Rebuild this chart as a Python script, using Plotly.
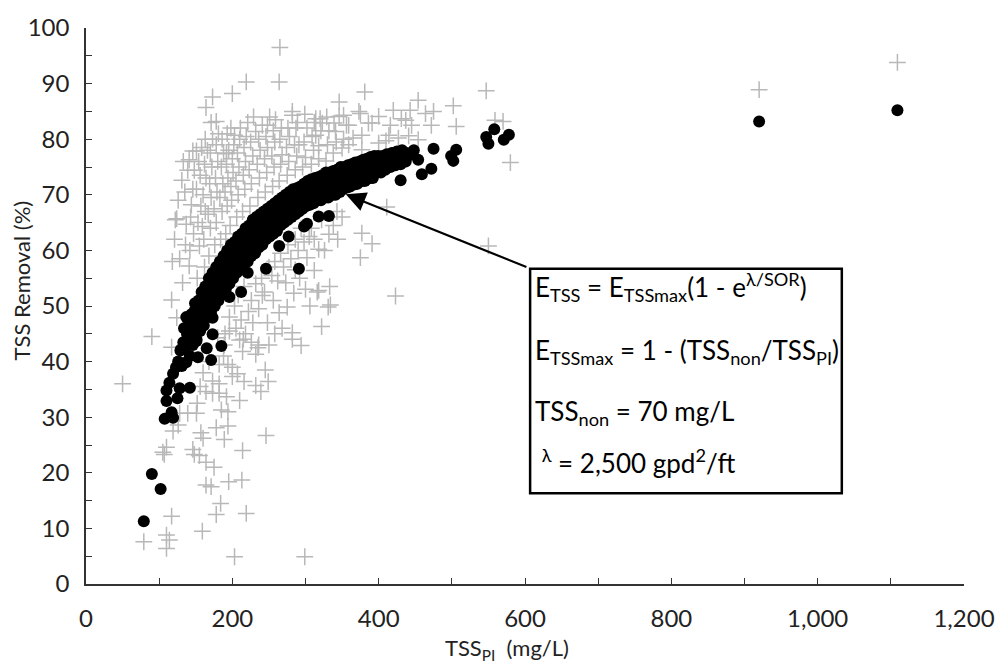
import plotly.graph_objects as go

# ---------------- data ----------------
# measured / observed TSS removal (grey crosses): (TSS_PI mg/L, removal %)
obs_pts = [
 (118,58),(122,65.5),(128,58.5),(124,65.7),(121,62),(126,69),(131,72.6),(135,70.5),(139,74.4),(133,76),(137,64.7),(144,68.2),
 (141,57.2),(132,54.2),(136,61),(142,60),(147,63),(143,66),(146,71),(148,74.4),(141,76.3),(151,77.9),(146,77.9),
 (152,55),(155,60.8),(153,65),(157,68),(151,71),(156,73.5),(154,76),(158,78.5),(159,64.3),(162,57),(161,62),(163,67),
 (160,70),(164,73),(162,75.5),(166,78),(163,80),(164,85.7),
 (168,59),(170,64),(167,66.5),(171,69.5),(169,72),(172,75),(170,77.5),(173,80),(171,83),(173,87.6),
 (176,61),(178,65),(175,67.5),(179,70.5),(177,73),(180,76),(178,79),(181,81),(178,83.2),
 (184,62),(186,67),(183,69.5),(187,72),(185,75),(188,77.5),(186,80),(192,77.4),
 (191,63),(193,68),(190,70.5),(194,73),(192,75.5),(195,78),(193,81),
 (197,64.5),(199,69),(198,71.5),(201,74),(200,76.5),(202,79),(203,80.7),(200,88.2),(198,82),
 (206,66),(208,70),(205,72.5),(209,75),(207,77.5),(210,80),(211,82),
 (214,67),(217,71),(215,73.5),(218,76),(216,78.5),(219,80.5),(221,83),(219,90.3),
 (224,68),(226,72),(223,74.5),(228,77),(225,79.5),(232,81.4),(229,84),
 (235,69.5),(237,73),(234,75.5),(238,78),(236,80),(241,82.5),
 (245,70.5),(247,74),(244,76.5),(248,78.5),(246,80.5),(248,82.5),(251,84),
 (255,71.5),(257,75),(254,77),(258,79.5),(256,81.5),(259,83.5),
 (264,72.5),(266,75.5),(268,77.2),(265,80),(267,82),(264,90.3),(265,96.5),
 (275,73.5),(277,76),(274,78.5),(278,80.5),(276,82),(282,84.3),(282,85),
 (286,74.5),(288,77),(285,79),(291,79),(287,82),(289,83),
 (296,75),(300,76.7),(298,79.5),(302,82),(299,84.5),
 (308,75.5),(311,78),(309,80.5),(314,80.7),(314,83.7),(312,83),
 (318,76.5),(318,78.8),(321,81.5),(323,82.9),(320,83.7),
 (328,76.1),(330,79),(332,81.5),(329,84),
 (338,77.5),(341,81.4),(339,82.9),(346,84.1),(346,86.7),(342,79.5),
 (350,78.4),(352,80),(352,84.3),(356,82.5),(359,79),(359,82.5),
 (365,80.2),(373,85),(375,84.6),(377,78.1),(377,80.7),(381,88.5),
 (386,82.9),(391,82.9),(400,79.3),(400,84.1),(410,79.7),(414,80.7),(416,82.5),
 (420,85.2),(427,80.2),(431,83.7),(437,83.4),(441,80.6),(443,85.2),(445,82.5),
 (454,79.9),(454,87),(464,84.6),(472,82.5),(475,85),(502,86),(506,82.3),
 (547,88.7),(559,83.4),(570,83.2),(580,75.8),(920,88.9),(1109,93.8),
 (254,55.5),(273,54.2),(284,52.3),(241,51.9),(264,48.8),(275,49.8),(282,45.2),(294,42.9),
 (302,58.7),(312,56.4),(318,60.2),(305,62.5),(332,62.9),(333,53.5),(316,52.5),(331,49.8),(322,46.3),
 (318,52.8),(334,50.2),(343,67),(377,63.1),(391,61.2),(375,58.7),(411,67.8),(423,51.8),(550,60.8),(282,44),
 (190,45),(196,48),(205,46),(203,50),(212,47.5),(208,52),(218,45),(222,49),(216,53.5),(228,47),(226,51),
 (232,54),(236,49.5),(240,55),(244,52.5),(248,47),(250,57),(256,51),(258,58),(262,54.5),(266,59.5),(270,57),
 (276,61),(280,58.5),(286,62),(290,60),(294,64),(298,61.5),(308,64),(312,62),(322,65.5),(326,60),(338,64.5),
 (344,62),(350,66),(286,56.5),(292,55),(300,53),(306,50),(226,43.5),(250,43),(258,45),(268,46),(215,44),(245,38.5),
 (50,36),(90,44.5),(79,7.6),(110,8.8),(114,7.9),(110,6.4),(117,12.2),(105,23.7),(110,24.6),(119,27.5),(126,28.6),
 (128,30.7),(139,30.7),(151,30.7),(152,32.5),(157,27.2),(160,26.2),(148,23.3),(155,23.1),(164,21.9),(175,21),
 (178,12.5),(159,9.5),(164,17.8),(171,17.5),(184,14.5),(195,18.4),(213,18.7),(219,12.7),(203,4.9),(299,4.9),
 (246,26.7),(214,24),(178,28.1),(194,28.4),(189,26),(164,34.6),(173,34.3),(182,34.3),(192,33.7),(185,31.3),
 (194,31),(182,36),(173,36.5),(200,37.3),(207,37.8),(216,36.4),(210,33),(232,35.7),(239,34.6),(249,36.4),
 (232,41.3),(214,41.8),(235,42.5),(210,43.9),(200,39),(194,39.5),(182,39.5),(188,41),(180,44.3),(196,45.5),
 (189,43),(117,42.6),(117,51.1),(124,47.9),(146,24.2),(107,23.3),(236,43),(168,40),(160,38),(156,35.5),
]

# predicted TSS removal (black dots): (TSS_PI mg/L, removal %)
pred_pts = [
 (79,11.3),(90,19.8),(102,17.1),(107.5,29.7),(119,29.9),(117,30.9),(110,32.9),(110,34.8),(114,36.2),(119,37.8),
 (125,33.4),(128,35.2),(142,35.3),(123,39),(131,39.2),(137,39.9),(130,42.2),(135,42.2),(153,40.8),(165,42.4),
 (171,40.3),(185,42.8),(173,44.9),(151,43.7),(144,45),(173,47.9),(196,51.6),(212,52.5),(221,56),
 (246,56.7),(264,60.8),(277,62.5),(291,56.7),(298,64.3),(318,66.1),(332,66.2),(302,64.8),(368,71.9),(384,72.8),
 (430,72.6),(459,73.7),(472,74.7),(454,76.3),(475,78.3),(499,77),(506,78.1),(502,76.1),(547,80.4),(550,79.2),
 (558,81.8),(571,79.9),(578,80.8),(920,83.2),(1109,85.2),
 (126,40),(129,42),(133,43.5),(134,46),(138,45),(140,47.5),(137,48),
 (142,41),(143,44),(141,46.5),(144,48.5),(146,43),(147,46),(148,49),(149,50.5),
 (151,44),(152,47),(153,49.5),(154,51),(156,45.5),(157,48),(157,50.5),(158,52.5),
 (161,46.5),(162,49),(162,51.5),(163,53.5),(166,48),(167,50.5),(167,53),(168,55),
 (171,49),(172,51.5),(172,54),(173,56),(176,50),(177,52.5),(177,55),(178,57),
 (181,51),(182,53.5),(182,56),(183,58),(186,52),(187,54.5),(187,57),(188,59),
 (191,53),(192,55.5),(192,58),(193,60),(196,54),(197,56.5),(197,59),(198,61),
 (201,55),(202,57.5),(202,59.5),(203,61.5),(206,56),(207,58.5),(207,60.5),(208,62.5),
 (211,56.5),(212,59),(212,61),(213,63),(216,57.5),(217,60),(217,62),(218,64),
 (221,58),(222,60.5),(222,62.5),(223,64.5),(226,59),(227,61.5),(227,63.5),(228,65.5),
 (231,59.5),(232,62),(232,64),(233,66),(236,60.5),(237,62.5),(237,64.5),(238,66.5),
 (241,61),(242,63),(242,65),(243,67),(246,62),(247,64),(247,66),(248,67.5),
 (251,62.5),(252,64.5),(252,66.5),(253,68),(256,63),(257,65),(257,67),(258,68.5),
 (261,63.5),(262,65.5),(262,67.5),(263,69),(266,64.5),(267,66.5),(267,68),(268,69.5),
 (271,65),(272,67),(272,68.5),(273,70),(276,65.5),(277,67.5),(277,69),(278,70.5),
 (281,66),(282,68),(282,69.5),(283,71),(286,66.5),(287,68.5),(287,70),(288,71.2),
 (291,67),(292,69),(292,70.5),(293,71.5),(296,67.5),(297,69.5),(297,71),(298,72),
 (301,68),(302,70),(302,71.5),(303,72.5),(306,68.2),(307,70.2),(308,72.8),
 (311,68.5),(312,70.5),(312,72),(313,73),(316,69),(317,71),(318,73.2),
 (321,69),(322,71),(322,72.5),(323,73.5),(327,69.5),(327,71.5),(328,74),
 (331,69.5),(332,71.5),(332,73),(333,74),(337,70),(337,72),(338,74.3),
 (341,70),(342,72),(342,73.5),(343,74.5),(347,70.5),(347,72.5),(348,75),
 (351,71),(352,72.5),(352,74),(353,75),(357,71.3),(358,73),(358,75.3),
 (361,71.5),(362,73),(362,74.5),(363,75.5),(367,72),(368,73.5),(368,75.8),
 (371,72),(372,73.5),(373,75),(374,76),(377,72.5),(378,74),(379,76.3),
 (381,72.5),(382,74),(383,75.5),(384,76.5),(388,73),(389,74.5),(389,76.8),
 (392,73),(393,74.5),(393,76),(394,77),(398,74),(399,75.5),(399,77),
 (403,74),(404,75.5),(405,77),(409,74.5),(410,76),(411,77.3),
 (416,75),(417,76.5),(418,77.5),(423,75.3),(424,76.8),(425,77.8),
 (430,75.5),(431,77),(432,78),(437,76),(438,77.5),(444,77.2),(448,78),
]

x_tick_vals = [0, 200, 400, 600, 800, 1000, 1200]
x_tick_text = ["0", "200", "400", "600", "800", "1,000", "1,200"]
y_tick_vals = [0, 10, 20, 30, 40, 50, 60, 70, 80, 90, 100]

x_title = "TSS<sub>PI</sub>  (mg/L)"
y_title = "TSS Removal (%)"

box_lines = [
    "E<sub>TSS</sub> = E<sub>TSSmax</sub>(1 - e<sup>λ/SOR</sup>)",
    "E<sub>TSSmax</sub> = 1 - (TSS<sub>non</sub>/TSS<sub>PI</sub>)",
    "TSS<sub>non</sub> = 70 mg/L",
    " <sup>λ</sup> = 2,500 gpd<sup>2</sup>/ft",
]

FONT = "Lato, 'Noto Sans', sans-serif"
TXT = "#222222"

ox = [p[0] for p in obs_pts]
oy = [p[1] for p in obs_pts]
px_ = [p[0] for p in pred_pts]
py_ = [p[1] for p in pred_pts]

fig = go.Figure()
fig.add_trace(go.Scatter(
    x=ox, y=oy, mode="markers",
    marker=dict(symbol="cross-thin-open", size=12, color="#b8b8b8",
                line=dict(color="#b8b8b8", width=1.5)),
    showlegend=False, hoverinfo="skip"))
fig.add_trace(go.Scatter(
    x=px_, y=py_, mode="markers",
    marker=dict(symbol="circle", size=12, color="black", line=dict(width=0)),
    showlegend=False, hoverinfo="skip"))

# equation box
fig.add_shape(type="rect", xref="x", yref="y", x0=607, x1=1033, y0=16.3, y1=56.7,
              line=dict(color="black", width=2.5), fillcolor="white", layer="above")

# arrow from box corner to the curve
fig.add_annotation(x=355, y=70.1, ax=604, ay=56.9, xref="x", yref="y", axref="x", ayref="y",
                   text="", showarrow=True, arrowhead=2, arrowsize=1.8, arrowwidth=2.2,
                   arrowcolor="black", standoff=0)

line_y = [53.4, 41.8, 30.9, 22.0]
for txt, yy in zip(box_lines, line_y):
    fig.add_annotation(x=611, y=yy, xref="x", yref="y", text=txt, showarrow=False,
                       xanchor="left", yanchor="middle",
                       font=dict(family=FONT, size=26, color="black"))

# axis titles
fig.add_annotation(x=0.48, y=-0.117, xref="paper", yref="paper", text=x_title,
                   showarrow=False, xanchor="center", yanchor="middle",
                   font=dict(family=FONT, size=22, color=TXT))
fig.add_annotation(x=-0.074, y=0.546, xref="paper", yref="paper", text=y_title,
                   showarrow=False, xanchor="center", yanchor="middle", textangle=-90,
                   font=dict(family=FONT, size=22, color=TXT))

axis_common = dict(showline=True, linecolor="#333333", linewidth=1.5, ticks="inside",
                   ticklen=6, tickcolor="#333333", tickwidth=1.2, showgrid=False,
                   zeroline=False, mirror=False,
                   tickfont=dict(family=FONT, size=24, color=TXT))

fig.update_layout(
    width=1007, height=669,
    margin=dict(l=86, r=39, t=18, b=85),
    paper_bgcolor="white", plot_bgcolor="white",
    xaxis=dict(range=[0, 1200], tickvals=x_tick_vals, ticktext=x_tick_text,
               minor=dict(dtick=100, tick0=0, ticks="inside", ticklen=6, tickcolor="#333333"),
               ticklabelstandoff=12,
               **axis_common),
    yaxis=dict(range=[0, 100], tickvals=y_tick_vals,
               minor=dict(dtick=5, tick0=0, ticks="inside", ticklen=6, tickcolor="#333333"),
               ticklabelstandoff=10,
               **axis_common),
)

fig.write_html("out.html")
